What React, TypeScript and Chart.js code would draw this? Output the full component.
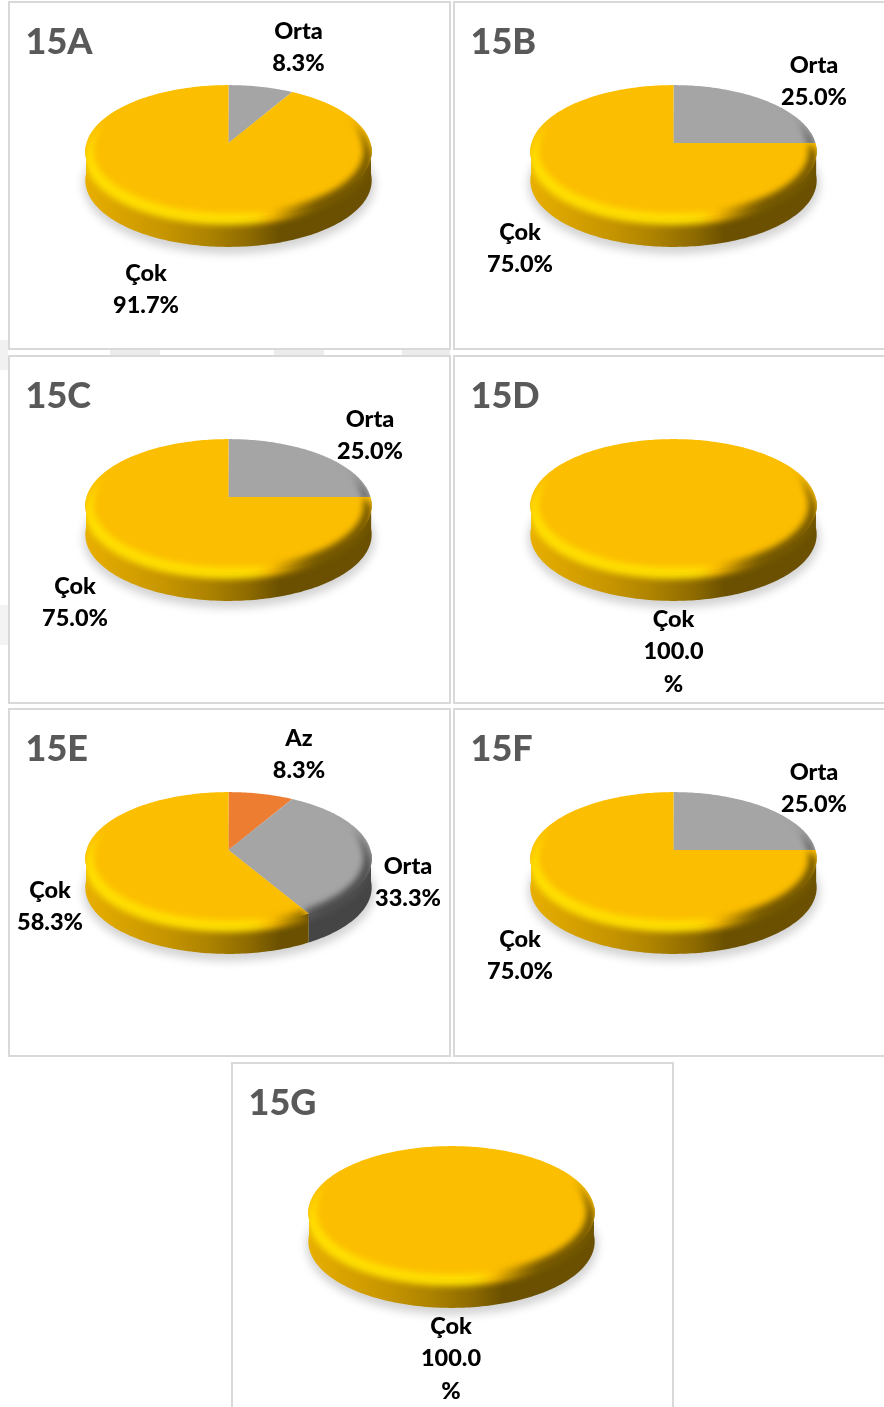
import React, { useEffect, useRef } from "react";
import { Chart, registerables } from "chart.js";

Chart.register(...registerables);

const panelNames = ["15A", "15B", "15C", "15D", "15E", "15F", "15G"];

const labelsA = ["Orta", "Çok"];
const valuesA = [8.3, 91.7];
const labelsB = ["Orta", "Çok"];
const valuesB = [25.0, 75.0];
const labelsC = ["Orta", "Çok"];
const valuesC = [25.0, 75.0];
const labelsD = ["Çok"];
const valuesD = [100.0];
const labelsE = ["Az", "Orta", "Çok"];
const valuesE = [8.3, 33.3, 58.3];
const labelsF = ["Orta", "Çok"];
const valuesF = [25.0, 75.0];
const labelsG = ["Çok"];
const valuesG = [100.0];

const categoryColors: Record<string, number[]> = {
  Az: [237, 125, 49],
  Orta: [165, 165, 165],
  "Çok": [252, 190, 0],
};

type Panel = {
  name: string;
  labels: string[];
  values: number[];
  left: number;
  top: number;
  labelAt: number[][];
};

const PANELS: Panel[] = [
  { name: panelNames[0], labels: labelsA, values: valuesA, left: 8, top: 1, labelAt: [[298.5, 32], [146, 274]] },
  { name: panelNames[1], labels: labelsB, values: valuesB, left: 453, top: 1, labelAt: [[814, 66], [520, 233]] },
  { name: panelNames[2], labels: labelsC, values: valuesC, left: 8, top: 355, labelAt: [[370, 420], [75, 587]] },
  { name: panelNames[3], labels: labelsD, values: valuesD, left: 453, top: 355, labelAt: [[673.5, 620]] },
  { name: panelNames[4], labels: labelsE, values: valuesE, left: 8, top: 708, labelAt: [[299, 739], [408, 867], [50, 891]] },
  { name: panelNames[5], labels: labelsF, values: valuesF, left: 453, top: 708, labelAt: [[814, 773], [520, 940]] },
  { name: panelNames[6], labels: labelsG, values: valuesG, left: 231, top: 1062, labelAt: [[451, 1327]] },
];

const PANEL_W = 443;
const PANEL_H = 349;
const K = 0.128; // perspective strength
const FLAT = 0.46; // vertical squash
const DEPTH = 29;
const STEP = 0.02;

const clamp = (x: number, a = 0, b = 1) => Math.min(b, Math.max(a, x));
const smooth = (a: number, b: number, x: number) => {
  const t = clamp((x - a) / (b - a));
  return t * t * (3 - 2 * t);
};
const lerp = (a: number, b: number, t: number) => a + (b - a) * t;
const shade = (c: number[], m: number) =>
  `rgb(${c.map((v) => Math.min(255, Math.round(v * m))).join(",")})`;

const sideStops = [
  [-1, 0.92],
  [-0.43, 0.78],
  [-0.15, 0.69],
  [0.15, 0.56],
  [0.36, 0.42],
  [1, 0.42],
];

function makeDiscPlugin(panel: Panel) {
  return {
    id: "disc3d",
    beforeDatasetsDraw(chart: any) {
      const ctx = chart.ctx as CanvasRenderingContext2D;
      const arcs = chart.getDatasetMeta(0).data as any[];
      if (!arcs.length) return;
      const cx = arcs[0].x;
      const cy = arcs[0].y;
      const R = arcs[0].outerRadius;
      const P = (theta: number, r: number, dy = 0) => {
        const u = r * Math.cos(theta);
        const v = r * Math.sin(theta);
        const w = 1 - K * v;
        return [cx + (R * u) / w, cy + (FLAT * R * v) / w + dy];
      };
      const horiz = () => ctx.createLinearGradient(cx - R * 1.01, 0, cx + R * 1.01, 0);

      // soft ground shadow
      ctx.save();
      ctx.filter = "blur(4px)";
      ctx.fillStyle = "rgba(0,0,0,0.17)";
      ctx.beginPath();
      ctx.ellipse(cx + 0.5, cy + 8.5 + DEPTH + 4, R + 4, FLAT * R * 1.02 + 3, 0, 0, Math.PI * 2);
      ctx.fill();
      ctx.restore();

      arcs.forEach((arc, i) => {
        const base = categoryColors[panel.labels[i]];
        const s = arc.startAngle;
        const e = arc.endAngle;
        const n = Math.max(2, Math.ceil((e - s) / STEP));
        const angles: number[] = [];
        for (let j = 0; j <= n; j++) angles.push(lerp(s, e, j / n));

        const facePath = () => {
          const c = P(0, 0);
          ctx.moveTo(c[0], c[1]);
          angles.forEach((a) => {
            const p = P(a, 1);
            ctx.lineTo(p[0], p[1]);
          });
          ctx.closePath();
        };
        const wall = angles.filter((a) => Math.sin(a) > 0.02);
        const wallPath = () => {
          if (wall.length < 2) return;
          wall.forEach((a, j) => {
            const p = P(a, 1);
            if (j === 0) ctx.moveTo(p[0], p[1]);
            else ctx.lineTo(p[0], p[1]);
          });
          [...wall].reverse().forEach((a) => {
            const p = P(a, 1, DEPTH);
            ctx.lineTo(p[0], p[1]);
          });
          ctx.closePath();
        };

        // side wall
        const sideGrad = horiz();
        sideStops.forEach(([u, m]) => sideGrad.addColorStop((u + 1) / 2, shade(base, m)));
        ctx.beginPath();
        wallPath();
        ctx.fillStyle = sideGrad;
        ctx.fill();

        // flat face
        ctx.beginPath();
        facePath();
        ctx.fillStyle = shade(base, 1);
        ctx.fill();

        // soft bevel that straddles the rim, clipped to the slice's silhouette
        ctx.save();
        ctx.beginPath();
        facePath();
        wallPath();
        ctx.clip();
        const rimGrad = horiz();
        for (let q = 0; q <= 20; q++) {
          const u = -1 + q / 10;
          rimGrad.addColorStop((u + 1) / 2, shade(base, lerp(1.17, 0.47, smooth(0.12, 0.66, u))));
        }
        const taper = (a: number) => smooth(-0.62, 0.0, Math.sin(a));
        const band = angles.filter((a) => Math.sin(a) > -0.62);
        if (band.length > 1) {
          ctx.filter = "blur(3px)";
          ctx.fillStyle = rimGrad;
          ctx.beginPath();
          band.forEach((a, j) => {
            const p = P(a, 1, 7 * taper(a));
            if (j === 0) ctx.moveTo(p[0], p[1]);
            else ctx.lineTo(p[0], p[1]);
          });
          [...band].reverse().forEach((a) => {
            const p = P(a, lerp(1, 0.945, taper(a)));
            ctx.lineTo(p[0], p[1]);
          });
          ctx.closePath();
          ctx.fill();
          ctx.filter = "none";
        }
        ctx.restore();
      });
      return false;
    },
    afterDraw(chart: any) {
      const ctx = chart.ctx as CanvasRenderingContext2D;
      ctx.save();
      ctx.textBaseline = "alphabetic";
      ctx.textAlign = "left";
      ctx.fillStyle = "#595959";
      ctx.font = "900 36px Lato, Carlito, sans-serif";
      ctx.fillText(panel.name, 17.5, 53);

      ctx.textAlign = "center";
      ctx.textBaseline = "middle";
      ctx.fillStyle = "#000000";
      ctx.font = "900 23.5px Lato, Carlito, sans-serif";
      panel.labels.forEach((label, i) => {
        const x = panel.labelAt[i][0] - panel.left;
        const y = panel.labelAt[i][1] - panel.top - 1;
        const value = panel.values[i].toFixed(1);
        const lines = value === "100.0" ? [label, value, "%"] : [label, `${value}%`];
        lines.forEach((line, li) => ctx.fillText(line, x, y + li * 32.7));
      });
      ctx.restore();
    },
  };
}

function PanelChart({ panel }: { panel: Panel }) {
  const ref = useRef<HTMLCanvasElement>(null);
  useEffect(() => {
    if (!ref.current) return;
    const chart = new Chart(ref.current, {
      type: "pie",
      data: {
        labels: panel.labels,
        datasets: [
          {
            data: panel.values,
            backgroundColor: panel.labels.map((l) => shade(categoryColors[l], 1)),
            borderWidth: 0,
          },
        ],
      },
      options: {
        responsive: false,
        animation: false,
        layout: { padding: { bottom: PANEL_H - 284, right: 2 } },
        plugins: { legend: { display: false }, tooltip: { enabled: false }, title: { display: false } },
      },
      plugins: [makeDiscPlugin(panel)],
    } as any);
    return () => chart.destroy();
  }, [panel]);
  return (
    <div
      style={{
        position: "absolute",
        left: panel.left,
        top: panel.top,
        width: PANEL_W,
        height: PANEL_H,
        background: "#fff",
      }}
    >
      <canvas ref={ref} width={PANEL_W} height={PANEL_H} style={{ display: "block", position: "absolute", left: 0, top: 0 }} />
      <div
        style={{
          position: "absolute",
          inset: 0,
          border: "2px solid #d9d9d9",
          boxSizing: "border-box",
          pointerEvents: "none",
        }}
      />
    </div>
  );
}

const blobs = [
  [110, 349, 50, 7, "#ececec"],
  [274, 349, 50, 7, "#ececec"],
  [402, 349, 48, 7, "#ececec"],
  [0, 340, 8, 30, "#f1f1f1"],
  [0, 605, 8, 40, "#f3f3f3"],
];

export default function App() {
  return (
    <div
      style={{
        position: "absolute",
        left: 0,
        top: 0,
        width: 884,
        height: 1407,
        overflow: "hidden",
        background: "#fff",
      }}
    >
      {blobs.map((b, i) => (
        <div
          key={i}
          style={{ position: "absolute", left: b[0] as number, top: b[1] as number, width: b[2] as number, height: b[3] as number, background: b[4] as string }}
        />
      ))}
      {PANELS.map((p) => (
        <PanelChart key={p.name} panel={p} />
      ))}
    </div>
  );
}
